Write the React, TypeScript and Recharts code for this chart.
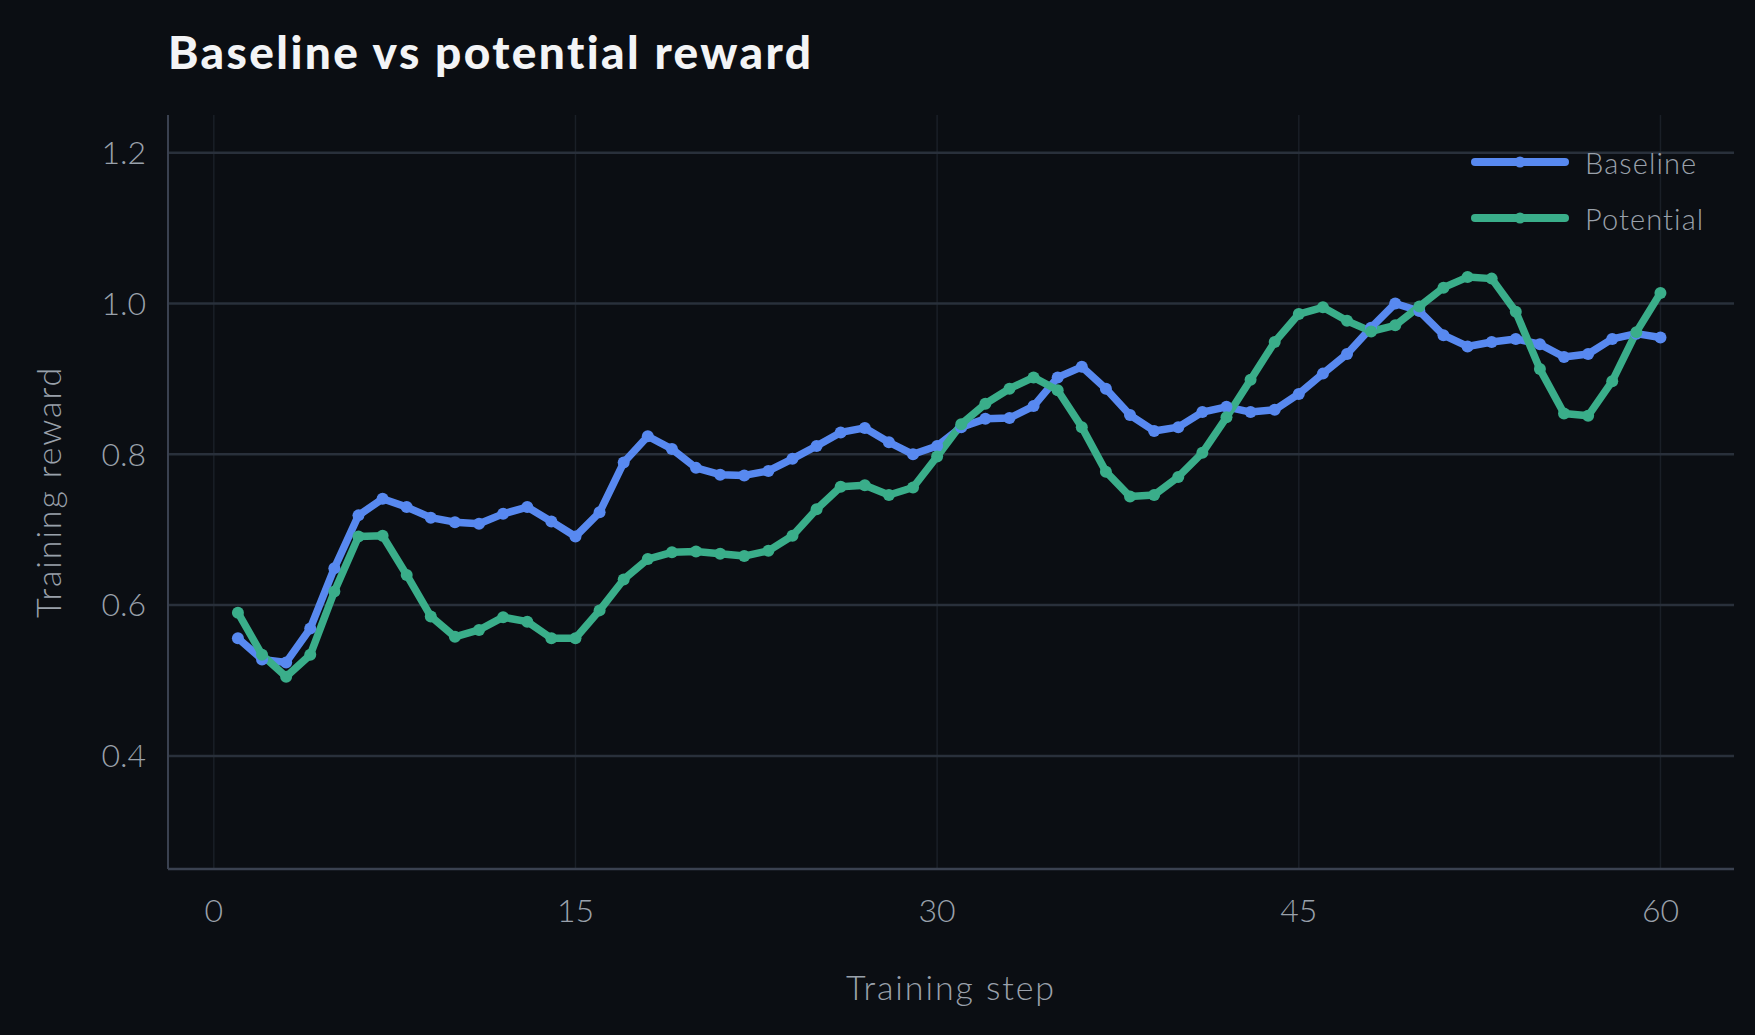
import { LineChart, Line, XAxis, YAxis, CartesianGrid, Label } from 'recharts'

const steps = [
  1, 2, 3, 4, 5, 6, 7, 8, 9, 10, 11, 12, 13, 14, 15, 16, 17, 18, 19, 20,
  21, 22, 23, 24, 25, 26, 27, 28, 29, 30, 31, 32, 33, 34, 35, 36, 37, 38, 39, 40,
  41, 42, 43, 44, 45, 46, 47, 48, 49, 50, 51, 52, 53, 54, 55, 56, 57, 58, 59, 60,
]
const baseline = [
  0.556, 0.528, 0.524, 0.569, 0.649, 0.719, 0.741, 0.730, 0.716, 0.710,
  0.708, 0.721, 0.730, 0.711, 0.691, 0.723, 0.789, 0.824, 0.807, 0.782,
  0.773, 0.772, 0.778, 0.794, 0.811, 0.829, 0.835, 0.816, 0.800, 0.811,
  0.836, 0.847, 0.848, 0.864, 0.902, 0.916, 0.887, 0.852, 0.831, 0.836,
  0.856, 0.863, 0.856, 0.859, 0.880, 0.907, 0.933, 0.968, 1.000, 0.990,
  0.958, 0.943, 0.949, 0.953, 0.946, 0.929, 0.933, 0.953, 0.960, 0.955,
]
const potential = [
  0.590, 0.534, 0.505, 0.534, 0.618, 0.691, 0.692, 0.640, 0.585, 0.558,
  0.567, 0.584, 0.578, 0.556, 0.556, 0.593, 0.634, 0.661, 0.670, 0.671,
  0.668, 0.665, 0.672, 0.692, 0.727, 0.757, 0.759, 0.746, 0.756, 0.797,
  0.840, 0.867, 0.887, 0.902, 0.885, 0.836, 0.777, 0.744, 0.746, 0.770,
  0.802, 0.849, 0.899, 0.949, 0.986, 0.995, 0.977, 0.963, 0.971, 0.996,
  1.021, 1.035, 1.033, 0.989, 0.913, 0.854, 0.851, 0.897, 0.962, 1.014,
]
const xTicks = [0, 15, 30, 45, 60]
const yTicks = [0.4, 0.6, 0.8, 1.0, 1.2]
const series = [
  { key: 'baseline', name: 'Baseline', color: '#5889f0' },
  { key: 'potential', name: 'Potential', color: '#3aae8a' },
]

const BG = '#0b0e13'
const TEXT = '#9aa1ab'
const FONT = 'Lato, "Noto Sans", sans-serif'

const data = steps.map((s, i) => ({ step: s, baseline: baseline[i], potential: potential[i] }))

function YTitle(props: any) {
  const vb = props.viewBox
  const cx = 47
  const cy = vb.y + vb.height / 2
  return (
    <text x={cx} y={cy} transform={`rotate(-90 ${cx} ${cy})`} textAnchor="middle" dominantBaseline="central"
      fill={TEXT} fontSize={34} fontWeight={300} fontFamily={FONT} letterSpacing={1.9}>Training reward</text>
  )
}

function XTitle(props: any) {
  const vb = props.viewBox
  return (
    <text x={vb.x + vb.width / 2} y={986} textAnchor="middle" dominantBaseline="central"
      fill={TEXT} fontSize={34} fontWeight={300} fontFamily={FONT} letterSpacing={1.9}>Training step</text>
  )
}

function LegendBox() {
  return (
    <div style={{ position: 'absolute', left: 1470, top: 134 }}>
      {series.map((it) => (
        <div key={it.name} style={{ display: 'flex', alignItems: 'center', height: 56 }}>
          <svg width={100} height={16} style={{ marginRight: 15 }}>
            <line x1={5} y1={8} x2={95} y2={8} stroke={it.color} strokeWidth={8} strokeLinecap="round" />
            <circle cx={50} cy={8} r={5.5} fill={it.color} />
          </svg>
          <span style={{ color: TEXT, fontSize: 29, fontWeight: 300, fontFamily: FONT, letterSpacing: 1.1 }}>{it.name}</span>
        </div>
      ))}
    </div>
  )
}

export default function App() {
  return (
    <div style={{ position: 'absolute', left: 0, top: 0, width: 1755, height: 1035, background: BG }}>
      <div style={{ position: 'absolute', left: 168, top: 24, color: '#f3f4f6', fontSize: 46, fontWeight: 900, fontFamily: FONT, letterSpacing: 2.4, whiteSpace: 'nowrap' }}>
        Baseline vs potential reward
      </div>
      <LineChart width={1755} height={1035} data={data} margin={{ top: 115, right: 21, bottom: 46, left: 68 }}>
        <CartesianGrid horizontal={false} stroke="#1a1f27" strokeWidth={1.5} syncWithTicks />
        <CartesianGrid vertical={false} stroke="#29303b" strokeWidth={2.5} syncWithTicks />
        <XAxis dataKey="step" type="number" domain={[-1.9, 63.05]} ticks={xTicks} allowDataOverflow
          height={120} tickSize={0} tickMargin={30} stroke="#3a4150" strokeWidth={2.5}
          tick={{ fill: TEXT, fontSize: 32, fontWeight: 300, fontFamily: FONT }}>
          <Label content={<XTitle />} />
        </XAxis>
        <YAxis type="number" domain={[0.25, 1.25]} ticks={yTicks} allowDataOverflow width={100}
          tickSize={0} tickMargin={22} stroke="#3a4150" strokeWidth={2}
          tickFormatter={(v: number) => v.toFixed(1)}
          tick={{ fill: TEXT, fontSize: 32, fontWeight: 300, fontFamily: FONT }}>
          <Label content={<YTitle />} />
        </YAxis>
        {series.map((s) => (
          <Line key={s.key} type="linear" dataKey={s.key} name={s.name} stroke={s.color} strokeWidth={7.5}
            strokeLinejoin="round" dot={{ r: 6, fill: s.color, stroke: s.color, strokeWidth: 0 }}
            activeDot={false} isAnimationActive={false} />
        ))}
      </LineChart>
      <LegendBox />
    </div>
  )
}
